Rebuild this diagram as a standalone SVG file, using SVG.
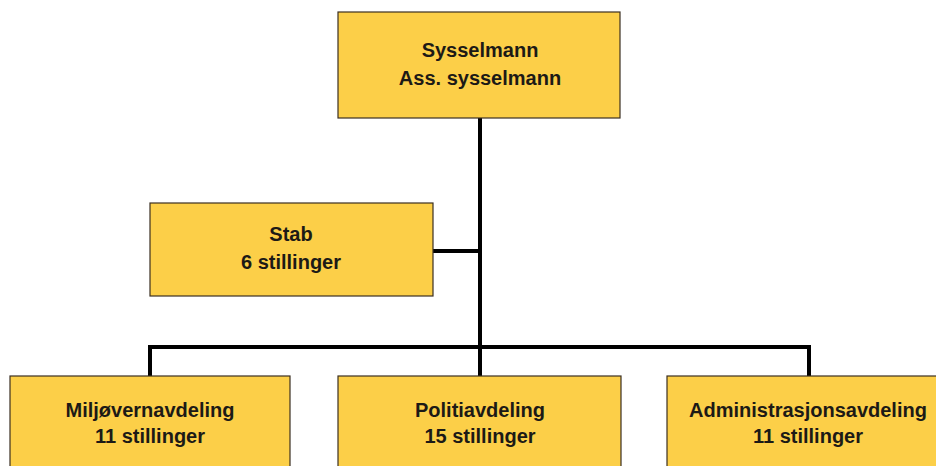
<svg xmlns="http://www.w3.org/2000/svg" width="936" height="466" viewBox="0 0 936 466">
<style>
.box{fill:#FCCF48;stroke:#3b2f22;stroke-width:1.2}
.t{font-family:"Liberation Sans",Arial,sans-serif;font-weight:bold;font-size:20px;fill:#1c1a16;text-anchor:middle}
.c{fill:none;stroke:#000;stroke-width:4}
</style>
<rect width="936" height="466" fill="#fff"/>
<g id="connectors">
<path class="c" d="M480 118 V347"/>
<path class="c" d="M433 251 H480"/>
<path class="c" d="M150 376 V347 H809 V376"/>
<path class="c" d="M480 347 V376"/>
</g>
<g id="sysselmann">
<rect class="box" x="338" y="12" width="282" height="106"/>
<text class="t" x="480" y="57">Sysselmann</text>
<text class="t" x="480" y="85">Ass. sysselmann</text>
</g>
<g id="stab">
<rect class="box" x="150" y="203" width="283" height="93"/>
<text class="t" x="291" y="241">Stab</text>
<text class="t" x="291" y="269">6 stillinger</text>
</g>
<g id="miljovernavdeling">
<rect class="box" x="10" y="376" width="280" height="100"/>
<text class="t" x="150" y="417">Miljøvernavdeling</text>
<text class="t" x="150" y="443">11 stillinger</text>
</g>
<g id="politiavdeling">
<rect class="box" x="338" y="376" width="283" height="100"/>
<text class="t" x="480" y="417">Politiavdeling</text>
<text class="t" x="480" y="443">15 stillinger</text>
</g>
<g id="administrasjonsavdeling">
<rect class="box" x="667" y="376" width="282" height="100"/>
<text class="t" x="808" y="417">Administrasjonsavdeling</text>
<text class="t" x="808" y="443">11 stillinger</text>
</g>
</svg>
